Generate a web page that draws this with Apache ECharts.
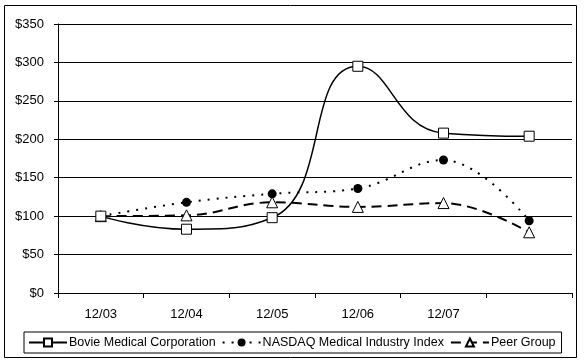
<!DOCTYPE html>
<html><head><meta charset="utf-8">
<script src="https://cdn.jsdelivr.net/npm/echarts@6/dist/echarts.min.js"></script>
<style>html,body{margin:0;padding:0;background:#fff}#c{width:587px;height:362px}</style>
</head><body><div id="c"></div>
<script>
var categories = ['12/03','12/04','12/05','12/06','12/07',''];
var bovie = [100, 83, 98, 295, 208, 204];
var nasdaq = [100, 118, 129, 136, 173, 94];
var peer = [100, 101, 118, 112, 117, 79];
var yTicks = [0, 50, 100, 150, 200, 250, 300, 350];

var font = 'Arial, "Liberation Sans", sans-serif';
var chart = echarts.init(document.getElementById('c'), null, {renderer:'canvas'});
chart.setOption({
  animation: false,
  backgroundColor: '#fff',
  textStyle: {fontFamily: font, color: '#000'},
  graphic: [{type:'rect', shape:{x:4.5, y:5.5, width:572, height:352}, style:{fill:null, stroke:'#000', lineWidth:1}}],
  grid: {left: 58, right: 15, top: 24, bottom: 69},
  legend: {
    left: 24, top: 332,
    padding: [4, 6, 4, 4],
    borderColor: '#000', borderWidth: 1,
    itemWidth: 38, itemHeight: 10, itemGap: 6,
    textStyle: {fontFamily: font, fontSize: 12.5, color: '#000', padding: [0, 0, 0, -3]},
    data: ['Bovie Medical Corporation', 'NASDAQ Medical Industry Index', 'Peer Group']
  },
  xAxis: {
    type: 'category', data: categories, boundaryGap: true,
    axisLine: {lineStyle: {color: '#000', width: 1}},
    axisTick: {show: true, length: 5, lineStyle: {color: '#000'}},
    axisLabel: {color: '#000', fontSize: 13, margin: 15, fontFamily: font}
  },
  yAxis: {
    type: 'value', min: yTicks[0], max: yTicks[yTicks.length-1], interval: 50,
    axisLine: {show: true, lineStyle: {color: '#000', width: 1}},
    axisTick: {show: true, length: 4, lineStyle: {color: '#000'}},
    splitLine: {show: true, lineStyle: {color: '#000', width: 1}},
    axisLabel: {color: '#000', fontSize: 13, margin: 14, fontFamily: font, formatter: function(v){return '$' + v;}}
  },
  series: [
    {name: 'Bovie Medical Corporation', type: 'line', data: bovie, smooth: 0.5,
     symbol: 'rect', symbolSize: 10,
     itemStyle: {color: '#fff', borderColor: '#000', borderWidth: 1},
     lineStyle: {color: '#000', width: 1.5, type: 'solid'}, z: 3},
    {name: 'NASDAQ Medical Industry Index', type: 'line', data: nasdaq, smooth: 0.4,
     symbol: 'circle', symbolSize: 9,
     itemStyle: {color: '#000', borderColor: '#000', borderWidth: 0},
     lineStyle: {color: '#000', width: 2, type: [2, 7]}, z: 2},
    {name: 'Peer Group', type: 'line', data: peer, smooth: 0.4,
     symbol: 'triangle', symbolSize: 11,
     itemStyle: {color: '#fff', borderColor: '#000', borderWidth: 1},
     lineStyle: {color: '#000', width: 2, type: [10, 6]}, z: 2}
  ]
});
</script></body></html>
